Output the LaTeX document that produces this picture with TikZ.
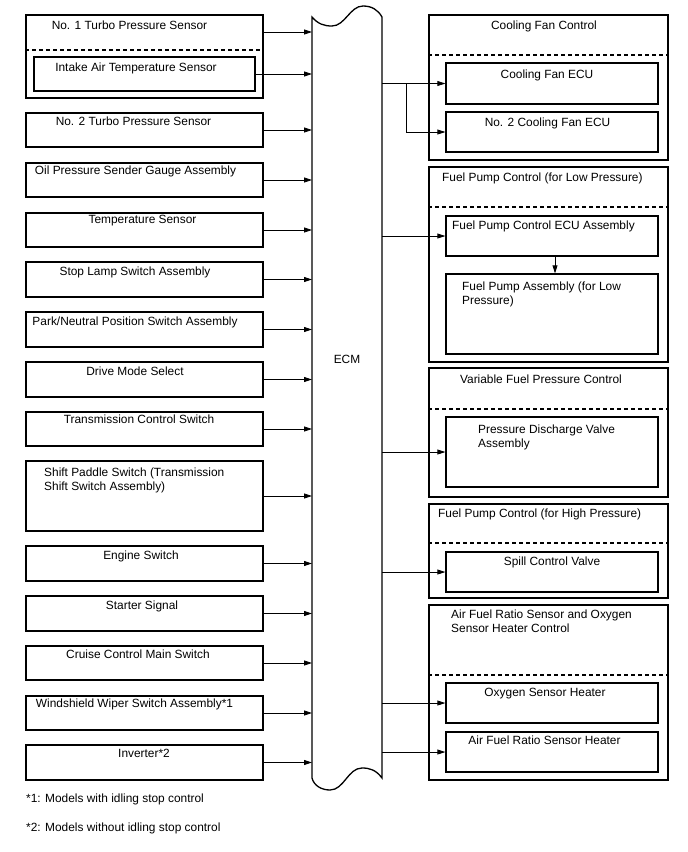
\documentclass[tikz,border=0pt]{standalone}
\usepackage{fontspec}
\setmainfont{Liberation Sans}
\usetikzlibrary{arrows.meta}
\begin{document}
\begin{tikzpicture}[x=1pt,y=-1pt,
 lbox/.style={draw, line width=1.3pt, minimum width=237pt, inner sep=0pt},
 obox/.style={draw, line width=1.3pt, minimum width=239pt, inner sep=0pt},
 ibox/.style={draw, line width=1.3pt, minimum width=212pt, inner sep=0pt},
 sepline/.style={line width=1.2pt, dash pattern=on 4pt off 3pt},
 arr/.style={line width=0.8pt, -{Triangle[length=8pt,width=5pt]}},
 txt/.style={font=\fontsize{11.9}{14}\selectfont, inner sep=0pt, anchor=base},
 txtl/.style={font=\fontsize{11.9}{14}\selectfont, inner sep=0pt, anchor=base west},
 mtxt/.style={font=\fontsize{11.9}{14}\selectfont, inner sep=0pt, anchor=north west, align=left},
]
\path[use as bounding box, fill=white] (0,0) rectangle (688,852);

% ECM
\draw[line width=1.3pt] (312,17) .. controls (318,24) and (324,26) .. (332,26)
  .. controls (345,26) and (350,6) .. (363,6)
  .. controls (372,6) and (378,10) .. (382,17) -- (382,778)
  .. controls (376,770) and (370,768) .. (362,768)
  .. controls (348,768) and (344,790) .. (330,790)
  .. controls (322,790) and (314,786) .. (312,778) -- cycle;
\node[txt] (ecm) at (347,363.3) {ECM};
\coordinate (ecmW) at (312,0);
\coordinate (ecmE) at (382,0);

% left boxes
\node[lbox, minimum height=83pt] (b1) at (144.5,56.5) {};
\node[lbox, minimum width=221pt, minimum height=34pt] (b1i) at (144.5,74) {};
\coordinate (d1) at (0,50);
\draw[sepline] (b1.west |- d1) -- (b1.east |- d1);
\node[txt] (t1) at (129.5,29.3) {No. 1 Turbo Pressure Sensor};
\node[txt] (t1i) at (136,71.3) {Intake Air Temperature Sensor};
\coordinate (a1) at (263,32);
\draw[arr] (a1) -- (a1 -| ecmW);
\draw[arr] (b1i.east) -- (b1i.east -| ecmW);

\node[lbox, minimum height=34pt] (b2) at (144.5,130) {};
\node[txt] (t2) at (133.5,125.3) {No. 2 Turbo Pressure Sensor};
\node[lbox, minimum height=34pt] (b3) at (144.5,180) {};
\node[txt] (t3) at (135.5,174.3) {Oil Pressure Sender Gauge Assembly};
\node[lbox, minimum height=34pt] (b4) at (144.5,230) {};
\node[txt] (t4) at (142.5,223.3) {Temperature Sensor};
\node[lbox, minimum height=35pt] (b5) at (144.5,279.5) {};
\node[txt] (t5) at (135,275.3) {Stop Lamp Switch Assembly};
\node[lbox, minimum height=35pt] (b6) at (144.5,329.5) {};
\node[txt] (t6) at (135,325.3) {Park/Neutral Position Switch Assembly};
\node[lbox, minimum height=35pt] (b7) at (144.5,379.5) {};
\node[txt] (t7) at (135,375.3) {Drive Mode Select};
\node[lbox, minimum height=34pt] (b8) at (144.5,429) {};
\node[txt] (t8) at (139,423.3) {Transmission Control Switch};
\node[lbox, minimum height=70pt] (b9) at (144.5,496) {};
\node[mtxt] (t9) at (44,467.5) {Shift Paddle Switch (Transmission\\Shift Switch Assembly)};
\node[lbox, minimum height=35pt] (b10) at (144.5,563.5) {};
\node[txt] (t10) at (141,559.3) {Engine Switch};
\node[lbox, minimum height=35pt] (b11) at (144.5,613.5) {};
\node[txt] (t11) at (142,609.3) {Starter Signal};
\node[lbox, minimum height=34pt] (b12) at (144.5,663) {};
\node[txt] (t12) at (138,658.3) {Cruise Control Main Switch};
\node[lbox, minimum height=34pt] (b13) at (144.5,713) {};
\node[txt] (t13) at (134.5,707.3) {Windshield Wiper Switch Assembly*1};
\node[lbox, minimum height=35pt] (b14) at (144.5,762.5) {};
\node[txt] (t14) at (144,757.3) {Inverter*2};

\foreach \b in {b2,b3,b4,b5,b6,b7,b8,b9,b10,b11,b12,b13,b14}
  \draw[arr] (\b.east) -- (\b.east -| ecmW);

% right: cooling fan
\node[obox, minimum height=145pt] (r1) at (548.5,87.5) {};
\coordinate (d2) at (0,55);
\draw[sepline] (r1.west |- d2) -- (r1.east |- d2);
\node[ibox, minimum height=41pt] (r1a) at (552,83.5) {};
\node[ibox, minimum height=40pt] (r1b) at (552,132) {};
\node[txt] (u1) at (544,29.3) {Cooling Fan Control};
\node[txt] (u1a) at (547,78.3) {Cooling Fan ECU};
\node[txt] (u1b) at (547.5,126.3) {No. 2 Cooling Fan ECU};
\coordinate (br) at (406,0);
\draw[arr] (r1a.west -| ecmE) -- (r1a.west);
\draw[arr] (br |- r1a.west) |- (r1b.west);

% fuel pump low
\node[obox, minimum height=195pt] (r2) at (548.5,264.5) {};
\coordinate (d3) at (0,207);
\draw[sepline] (r2.west |- d3) -- (r2.east |- d3);
\node[ibox, minimum height=40pt] (r2a) at (552,236) {};
\node[ibox, minimum height=80pt] (r2b) at (552,314) {};
\node[txtl] (u2) at (442,181.3) {Fuel Pump Control (for Low Pressure)};
\node[txtl] (u2a) at (452,229.3) {Fuel Pump Control ECU Assembly};
\node[mtxt] (u2b) at (462,281.5) {Fuel Pump Assembly (for Low\\Pressure)};
\draw[arr] (r2a.west -| ecmE) -- (r2a.west);
\coordinate (vx) at (555,0);
\draw[arr] (r2a.south -| vx) -- (r2b.north -| vx);

% variable fuel pressure
\node[obox, minimum height=129pt] (r3) at (548.5,432.5) {};
\coordinate (d4) at (0,409);
\draw[sepline] (r3.west |- d4) -- (r3.east |- d4);
\node[ibox, minimum height=70pt] (r3a) at (552,452) {};
\node[txt] (u3) at (541,383.3) {Variable Fuel Pressure Control};
\node[mtxt] (u3a) at (478,424.5) {Pressure Discharge Valve\\Assembly};
\draw[arr] (r3a.west -| ecmE) -- (r3a.west);

% fuel pump high
\node[obox, minimum height=94pt] (r4) at (548.5,551) {};
\coordinate (d5) at (0,543);
\draw[sepline] (r4.west |- d5) -- (r4.east |- d5);
\node[ibox, minimum height=40pt] (r4a) at (552,572) {};
\node[txtl] (u4) at (438,517.3) {Fuel Pump Control (for High Pressure)};
\node[txt] (u4a) at (552,565.3) {Spill Control Valve};
\draw[arr] (r4a.west -| ecmE) -- (r4a.west);

% AF sensor
\node[obox, minimum height=175pt] (r5) at (548.5,692.5) {};
\coordinate (d6) at (0,675);
\draw[sepline] (r5.west |- d6) -- (r5.east |- d6);
\node[ibox, minimum height=40pt] (r5a) at (552,703) {};
\node[ibox, minimum height=40pt] (r5b) at (552,752) {};
\node[mtxt] (u5) at (451,609.5) {Air Fuel Ratio Sensor and Oxygen\\Sensor Heater Control};
\node[txt] (u5a) at (545,696.3) {Oxygen Sensor Heater};
\node[txt] (u5b) at (544.5,744.3) {Air Fuel Ratio Sensor Heater};
\draw[arr] (r5a.west -| ecmE) -- (r5a.west);
\draw[arr] (r5b.west -| ecmE) -- (r5b.west);

% footnotes
\node[txtl] (f1) at (26,802.3) {*1: Models with idling stop control};
\node[txtl] (f2) at (26,831.3) {*2: Models without idling stop control};
\end{tikzpicture}
\end{document}
